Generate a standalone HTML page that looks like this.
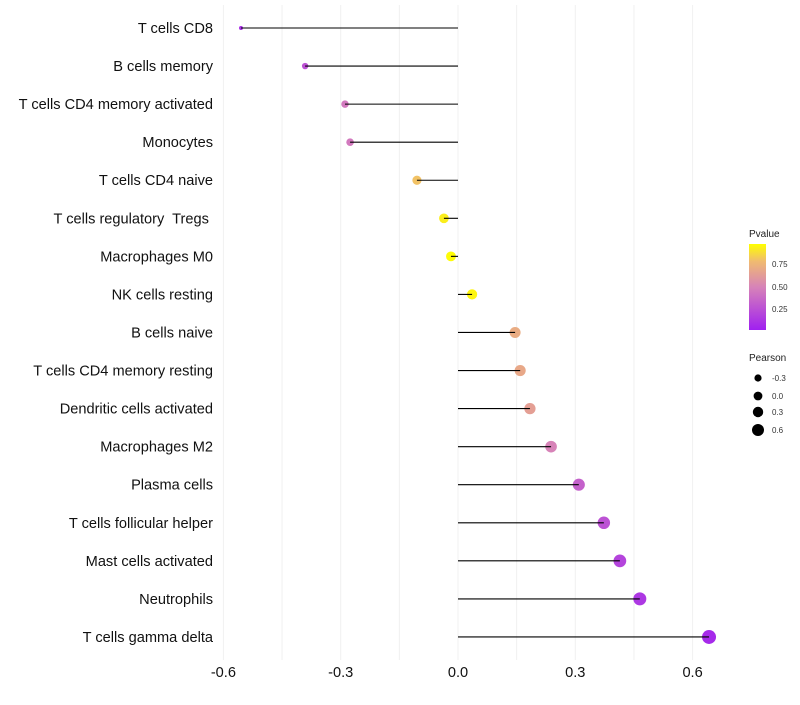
<!DOCTYPE html>
<html><head><meta charset="utf-8"><style>
body{margin:0;background:#fff;font-family:"Liberation Sans",sans-serif}
text{white-space:pre}
</style></head><body>
<svg id="chart" width="800" height="700" xmlns="http://www.w3.org/2000/svg">
<defs><linearGradient id="pg" x1="0" y1="1" x2="0" y2="0">
<stop offset="0" stop-color="#a020f0"/><stop offset="0.5" stop-color="#d783b8"/><stop offset="0.8" stop-color="#f0bb70"/><stop offset="1" stop-color="#ffff00"/></linearGradient></defs>
<g id="grid"></g><g id="marks"></g><g id="ylabels"></g><g id="xlabels"></g>
<g>
<text x="749" y="237" font-size="10" fill="#222">Pvalue</text>
<rect x="749" y="244" width="17" height="86" fill="url(#pg)"/>
<text x="772" y="267" font-size="8" fill="#333">0.75</text>
<text x="772" y="290" font-size="8" fill="#333">0.50</text>
<text x="772" y="312" font-size="8" fill="#333">0.25</text>
</g>
<g>
<text x="749" y="361" font-size="10" fill="#222">Pearson</text>
<circle cx="758" cy="378" r="3.6" fill="#000"/><text x="772" y="381" font-size="8" fill="#333">-0.3</text>
<circle cx="758" cy="396" r="4.4" fill="#000"/><text x="772" y="399" font-size="8" fill="#333">0.0</text>
<circle cx="758" cy="412" r="5.2" fill="#000"/><text x="772" y="415" font-size="8" fill="#333">0.3</text>
<circle cx="758" cy="430" r="6" fill="#000"/><text x="772" y="433" font-size="8" fill="#333">0.6</text>
</g>
</svg>
<script>
const categories=["T cells CD8","B cells memory","T cells CD4 memory activated","Monocytes","T cells CD4 naive","T cells regulatory  Tregs ","Macrophages M0","NK cells resting","B cells naive","T cells CD4 memory resting","Dendritic cells activated","Macrophages M2","Plasma cells","T cells follicular helper","Mast cells activated","Neutrophils","T cells gamma delta"];
const pearson=[-0.555,-0.391,-0.289,-0.276,-0.105,-0.036,-0.018,0.036,0.146,0.159,0.184,0.238,0.309,0.373,0.414,0.465,0.642];
const pvalues=[0.08,0.25,0.45,0.45,0.82,0.95,0.99,0.97,0.72,0.7,0.65,0.5,0.33,0.25,0.18,0.12,0.05];
const xTicks=[-0.6,-0.3,0.0,0.3,0.6];
const xTickLabels=["-0.6","-0.3","0.0","0.3","0.6"];
const gridVals=[-0.6,-0.45,-0.3,-0.15,0,0.15,0.3,0.45,0.6];
const NS="http://www.w3.org/2000/svg";
const x=v=>458+v*391;
const y=i=>28+i*38.06;
const r=v=>Math.sqrt(4+(v+0.555)*37.6);
function col(p){const st=[[0,[160,32,240]],[0.5,[215,131,184]],[0.8,[240,187,112]],[1,[255,255,0]]];
 p=Math.max(0,Math.min(1,p));for(let k=1;k<st.length;k++){if(p<=st[k][0]){const a=st[k-1],b=st[k],t=(p-a[0])/(b[0]-a[0]);return 'rgb('+a[1].map((c,j)=>Math.round(c+(b[1][j]-c)*t)).join(',')+')';}}return 'rgb(255,255,0)';}
function mk(t,a,p){const e=document.createElementNS(NS,t);for(const k in a)e.setAttribute(k,a[k]);p.appendChild(e);return e;}
const grid=document.getElementById('grid'),marks=document.getElementById('marks'),yl=document.getElementById('ylabels'),xl=document.getElementById('xlabels');
gridVals.forEach(v=>{const l=mk('line',{x1:x(v),x2:x(v),y1:5,y2:660,stroke:'#f0f0f0','stroke-width':1},grid);

});
categories.forEach((c,i)=>{
 const t=mk('text',{x:213,y:y(i)+5,'text-anchor':'end','font-size':14.6,fill:'#111'},yl);t.textContent=c;
 
 
 const ci=mk('circle',{cx:x(pearson[i]),cy:y(i),r:r(pearson[i]),fill:col(pvalues[i])},marks);
 
 
 const l=mk('line',{x1:x(0),x2:x(pearson[i]),y1:y(i),y2:y(i),stroke:'#000','stroke-width':1.1},marks);
 
 
});
xTicks.forEach((v,i)=>{const t=mk('text',{x:x(v),y:677,'text-anchor':'middle','font-size':14.6,fill:'#111'},xl);t.textContent=xTickLabels[i];

});
</script>
</body></html>
